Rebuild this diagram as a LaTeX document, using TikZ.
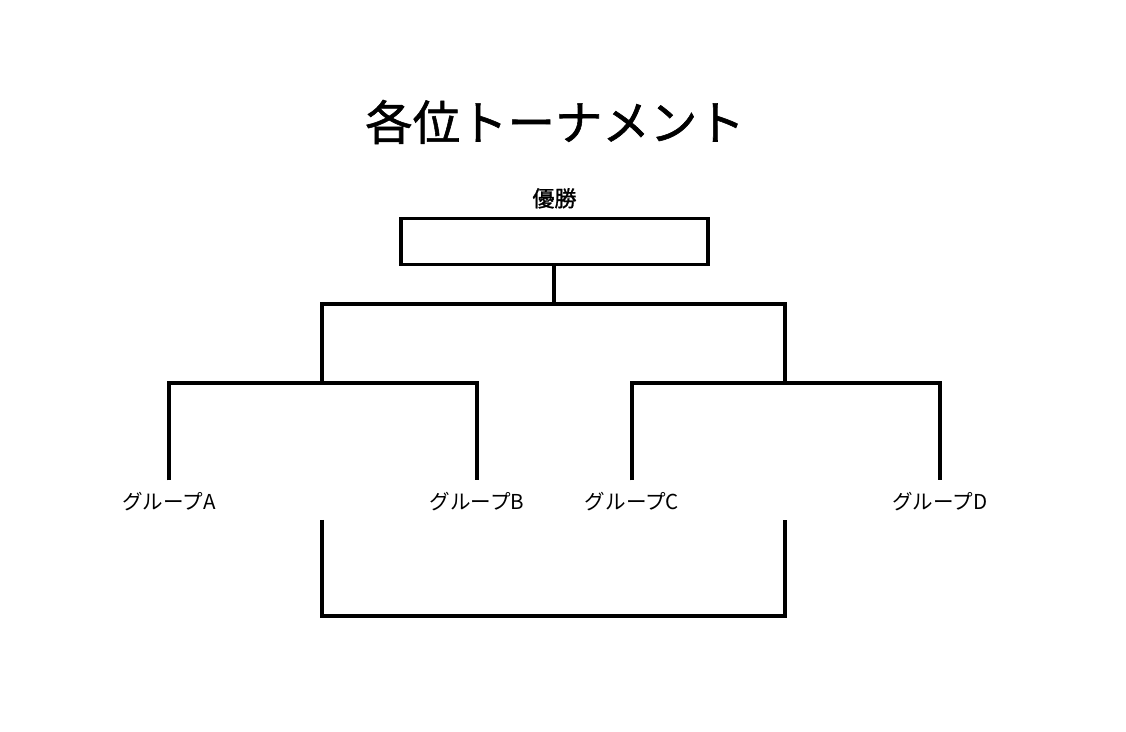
\documentclass[tikz,border=0pt]{standalone}
\usepackage{fontspec}
\newfontfamily\jp{Noto Sans CJK JP}
\newfontfamily\jpmed[FakeBold=1.2]{Noto Sans CJK JP}
\usetikzlibrary{positioning}

\begin{document}
\begin{tikzpicture}[x=0.02cm,y=-0.02cm,
    bracket/.style={line width=2.1pt},
    group/.style={font=\jp\fontsize{11.7}{12}\selectfont,inner sep=0.24cm},
    champbox/.style={draw,line width=2.1pt,minimum width=6.14cm,minimum height=0.92cm,inner sep=0pt}]
        \useasboundingbox (0,0) rectangle (1126,732) ;
        \node[font=\jpmed\fontsize{27}{30}\selectfont] (title) at (555,122) {各位トーナメント} ;
        \node[champbox] (win) at (554.5,241.5) {} ;
        \node[font=\jpmed\fontsize{12.5}{14}\selectfont,above=0.04cm of win] (winlbl) {優勝} ;
        % groups
        \node[group] (ga) at (169,502) {グループA} ;
        \node[group] (gb) at (477,502) {グループB} ;
        \node[group] (gc) at (632,502) {グループC} ;
        \node[group] (gd) at (940,502) {グループD} ;
        \coordinate (sl) at (322,383) ;
        \coordinate (sr) at (785,383) ;
        \coordinate (fin) at (554,304) ;
        \coordinate (tl) at (322,520) ;
        \coordinate (tr) at (785,520) ;
        \coordinate (tm) at (554,616) ;
        % semifinals
        \draw[bracket] (ga.north) |- (sl) -| (gb.north) ;
        \draw[bracket] (gc.north) |- (sr) -| (gd.north) ;
        % final
        \draw[bracket] (sl) |- (fin) -| (sr) ;
        \draw[bracket] (fin |- win.south) -- (fin) ;
        % third place
        \draw[bracket] (tl) |- (tm) -| (tr) ;
      \end{tikzpicture}
\end{document}
